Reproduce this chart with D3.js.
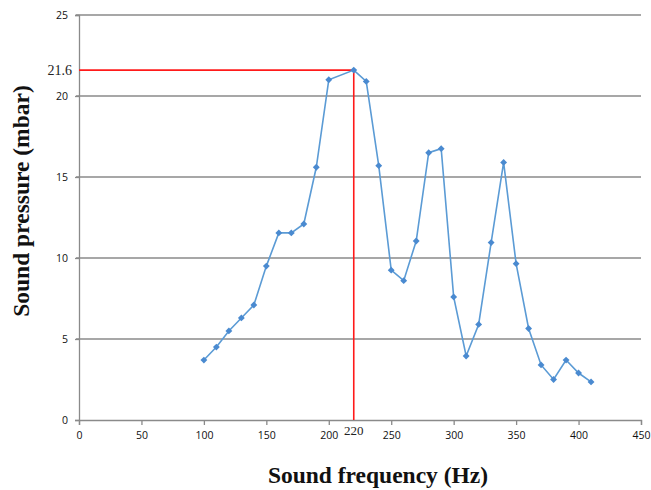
<!DOCTYPE html>
<html>
<head>
<meta charset="utf-8">
<script src="https://cdn.jsdelivr.net/npm/d3@7"></script>
<style>
  body { margin: 0; background: #fff; }
  svg { display: block; }
</style>
</head>
<body>
<svg id="chart"></svg>
<script>
// data
const frequency = [100, 110, 120, 130, 140, 150, 160, 170, 180, 190, 200, 220, 230, 240, 250, 260, 270, 280, 290, 300, 310, 320, 330, 340, 350, 360, 370, 380, 390, 400, 410];
const pressure = [3.7, 4.5, 5.5, 6.3, 7.1, 9.5, 11.55, 11.55, 12.1, 15.6, 21.0, 21.6, 20.9, 15.7, 9.25, 8.6, 11.05, 16.5, 16.75, 7.6, 3.95, 5.9, 10.95, 15.9, 9.65, 5.65, 3.4, 2.5, 3.7, 2.9, 2.35];
const xTicks = [0, 50, 100, 150, 200, 250, 300, 350, 400, 450];
const yTicks = [0, 5, 10, 15, 20, 25];
const peakFreq = 220;
const peakValue = 21.6;

const width = 651;
const height = 490;
const margin = { left: 79, right: 10, top: 15, bottom: 70 };

const svg = d3.select("#chart").attr("width", width).attr("height", height);

const x = d3.scaleLinear().domain([0, 450]).range([margin.left, width - margin.right]);
const y = d3.scaleLinear().domain([0, 25]).range([height - margin.bottom, margin.top]);

// horizontal grid lines
svg.append("g")
  .selectAll("line")
  .data(yTicks.filter((d) => d > 0))
  .enter()
  .append("line")
  .attr("x1", x(0) - 3)
  .attr("x2", x(450))
  .attr("y1", (d) => y(d))
  .attr("y2", (d) => y(d))
  .attr("stroke", "#8a8a8a")
  .attr("stroke-width", 1.3);

// y axis
const yAxis = svg.append("g")
  .attr("transform", `translate(${x(0)},0)`)
  .call(d3.axisLeft(y).tickValues(yTicks).tickSize(4).tickPadding(7));
yAxis.select(".domain").attr("stroke", "#8a8a8a").attr("stroke-width", 1.3);
yAxis.selectAll(".tick line").attr("stroke", "#8a8a8a").attr("stroke-width", 1.3);
yAxis.selectAll("text")
  .attr("font-family", "'Open Sans', 'DejaVu Sans', sans-serif")
  .attr("font-size", 10.5)
  .attr("fill", "#111");

// x axis
const xAxis = svg.append("g")
  .attr("transform", `translate(0,${y(0)})`)
  .call(d3.axisBottom(x).tickValues(xTicks).tickSize(5).tickPadding(7));
xAxis.select(".domain").attr("stroke", "#8a8a8a").attr("stroke-width", 1.3);
xAxis.selectAll(".tick line").attr("stroke", "#8a8a8a").attr("stroke-width", 1.3);
xAxis.selectAll("text")
  .attr("font-family", "'Open Sans', 'DejaVu Sans', sans-serif")
  .attr("font-size", 10.5)
  .attr("fill", "#111");

// red marker lines for the peak
svg.append("line")
  .attr("x1", x(0))
  .attr("x2", x(peakFreq))
  .attr("y1", y(peakValue))
  .attr("y2", y(peakValue))
  .attr("stroke", "#ff1a1a")
  .attr("stroke-width", 1.6);
svg.append("line")
  .attr("x1", x(peakFreq))
  .attr("x2", x(peakFreq))
  .attr("y1", y(peakValue))
  .attr("y2", y(0))
  .attr("stroke", "#ff1a1a")
  .attr("stroke-width", 1.6);

svg.append("text")
  .attr("x", x(0) - 7)
  .attr("y", y(peakValue) + 5)
  .attr("text-anchor", "end")
  .attr("font-family", "'Liberation Serif', serif")
  .attr("font-size", 14)
  .attr("fill", "#222")
  .text(peakValue);
svg.append("text")
  .attr("x", x(peakFreq))
  .attr("y", y(0) + 15)
  .attr("text-anchor", "middle")
  .attr("font-family", "'Liberation Serif', serif")
  .attr("font-size", 13)
  .attr("fill", "#222")
  .text(peakFreq);

// data line
const points = frequency.map((f, i) => [f, pressure[i]]);
svg.append("path")
  .datum(points)
  .attr("fill", "none")
  .attr("stroke", "#5b9bd5")
  .attr("stroke-width", 1.6)
  .attr("d", d3.line().x((d) => x(d[0])).y((d) => y(d[1])));

svg.append("g")
  .selectAll("path")
  .data(points)
  .enter()
  .append("path")
  .attr("transform", (d) => `translate(${x(d[0])},${y(d[1])})`)
  .attr("d", d3.symbol(d3.symbolDiamond2, 30))
  .attr("fill", "#4a8ad0");

// axis titles
svg.append("text")
  .attr("transform", "translate(29,201) rotate(-90)")
  .attr("text-anchor", "middle")
  .attr("font-family", "'Liberation Serif', serif")
  .attr("font-weight", "bold")
  .attr("font-size", 23.5)
  .attr("fill", "#111")
  .text("Sound pressure (mbar)");

svg.append("text")
  .attr("x", 378)
  .attr("y", 483)
  .attr("text-anchor", "middle")
  .attr("font-family", "'Liberation Serif', serif")
  .attr("font-weight", "bold")
  .attr("font-size", 23.5)
  .attr("fill", "#111")
  .text("Sound frequency (Hz)");
</script>
</body>
</html>
